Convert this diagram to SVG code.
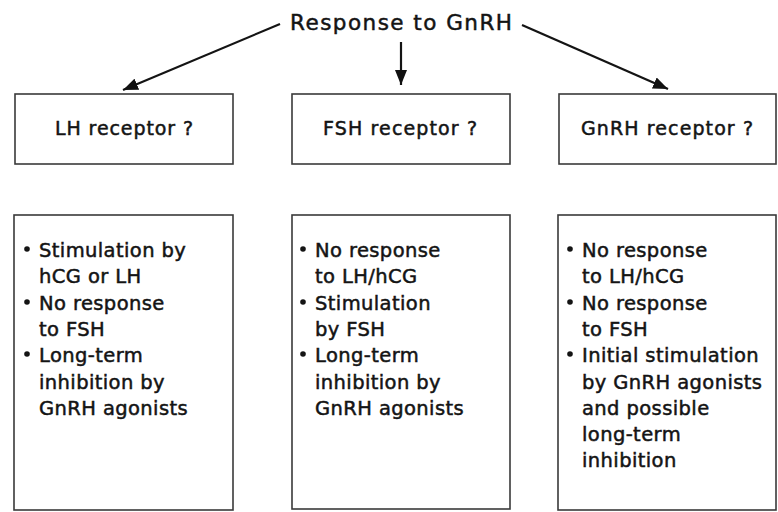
<svg xmlns="http://www.w3.org/2000/svg" width="778" height="512" viewBox="0 0 778 512">
<defs>
<marker id="arr" markerUnits="userSpaceOnUse" markerWidth="16" markerHeight="12" refX="15" refY="6" orient="auto">
<path d="M0,0 L15,6 L0,12 z" fill="#111"/>
</marker>
<style>
.box{fill:#fff;stroke:#3a3a3a;stroke-width:1.6}
.t{font-family:"DejaVu Sans","Liberation Sans",sans-serif;fill:#141414;stroke:#141414;stroke-width:0.5}
.title{font-size:21.5px}
.lab{font-size:19px}
.b{font-size:19.5px;letter-spacing:0.4px}
.dot{fill:#141414}
.conn{stroke:#141414;stroke-width:2.2;fill:none}
</style>
</defs>
<rect width="778" height="512" fill="#fff"/>
<g id="title">
<text class="t title" x="290" y="29.5" textLength="222" lengthAdjust="spacing">Response to GnRH</text>
</g>
<g id="connectors">
<line class="conn" x1="280" y1="24" x2="123" y2="90" marker-end="url(#arr)"/>
<line class="conn" x1="401" y1="42" x2="401" y2="85" marker-end="url(#arr)"/>
<line class="conn" x1="522" y1="25" x2="668" y2="89" marker-end="url(#arr)"/>
</g>
<g id="lh-receptor">
<rect class="box" x="15" y="94" width="218" height="70"/>
<text class="t lab" x="55" y="135" textLength="138" lengthAdjust="spacing">LH receptor ?</text>
</g>
<g id="fsh-receptor">
<rect class="box" x="292" y="94" width="218" height="70"/>
<text class="t lab" x="323" y="135" textLength="154" lengthAdjust="spacing">FSH receptor ?</text>
</g>
<g id="gnrh-receptor">
<rect class="box" x="559" y="94" width="217" height="70"/>
<text class="t lab" x="581" y="135" textLength="172" lengthAdjust="spacing">GnRH receptor ?</text>
</g>
<g id="lh-details">
<rect class="box" x="14" y="215" width="219" height="295"/>
<circle class="dot" cx="27" cy="249" r="2.8"/>
<circle class="dot" cx="27" cy="302" r="2.8"/>
<circle class="dot" cx="27" cy="354" r="2.8"/>
<text class="t b" x="39" y="257">Stimulation by</text>
<text class="t b" x="39" y="283">hCG or LH</text>
<text class="t b" x="39" y="310">No response</text>
<text class="t b" x="39" y="336">to FSH</text>
<text class="t b" x="39" y="362">Long-term</text>
<text class="t b" x="39" y="389">inhibition by</text>
<text class="t b" x="39" y="415">GnRH agonists</text>
</g>
<g id="fsh-details">
<rect class="box" x="292" y="215" width="218" height="294"/>
<circle class="dot" cx="303" cy="249" r="2.8"/>
<circle class="dot" cx="303" cy="302" r="2.8"/>
<circle class="dot" cx="303" cy="354" r="2.8"/>
<text class="t b" x="315" y="257">No response</text>
<text class="t b" x="315" y="283">to LH/hCG</text>
<text class="t b" x="315" y="310">Stimulation</text>
<text class="t b" x="315" y="336">by FSH</text>
<text class="t b" x="315" y="362">Long-term</text>
<text class="t b" x="315" y="389">inhibition by</text>
<text class="t b" x="315" y="415">GnRH agonists</text>
</g>
<g id="gnrh-details">
<rect class="box" x="558" y="215" width="218" height="295"/>
<circle class="dot" cx="570" cy="249" r="2.8"/>
<circle class="dot" cx="570" cy="302" r="2.8"/>
<circle class="dot" cx="570" cy="354" r="2.8"/>
<text class="t b" x="582" y="257">No response</text>
<text class="t b" x="582" y="283">to LH/hCG</text>
<text class="t b" x="582" y="310">No response</text>
<text class="t b" x="582" y="336">to FSH</text>
<text class="t b" x="582" y="362">Initial stimulation</text>
<text class="t b" x="582" y="389">by GnRH agonists</text>
<text class="t b" x="582" y="415">and possible</text>
<text class="t b" x="582" y="441">long-term</text>
<text class="t b" x="582" y="467">inhibition</text>
</g>
</svg>
